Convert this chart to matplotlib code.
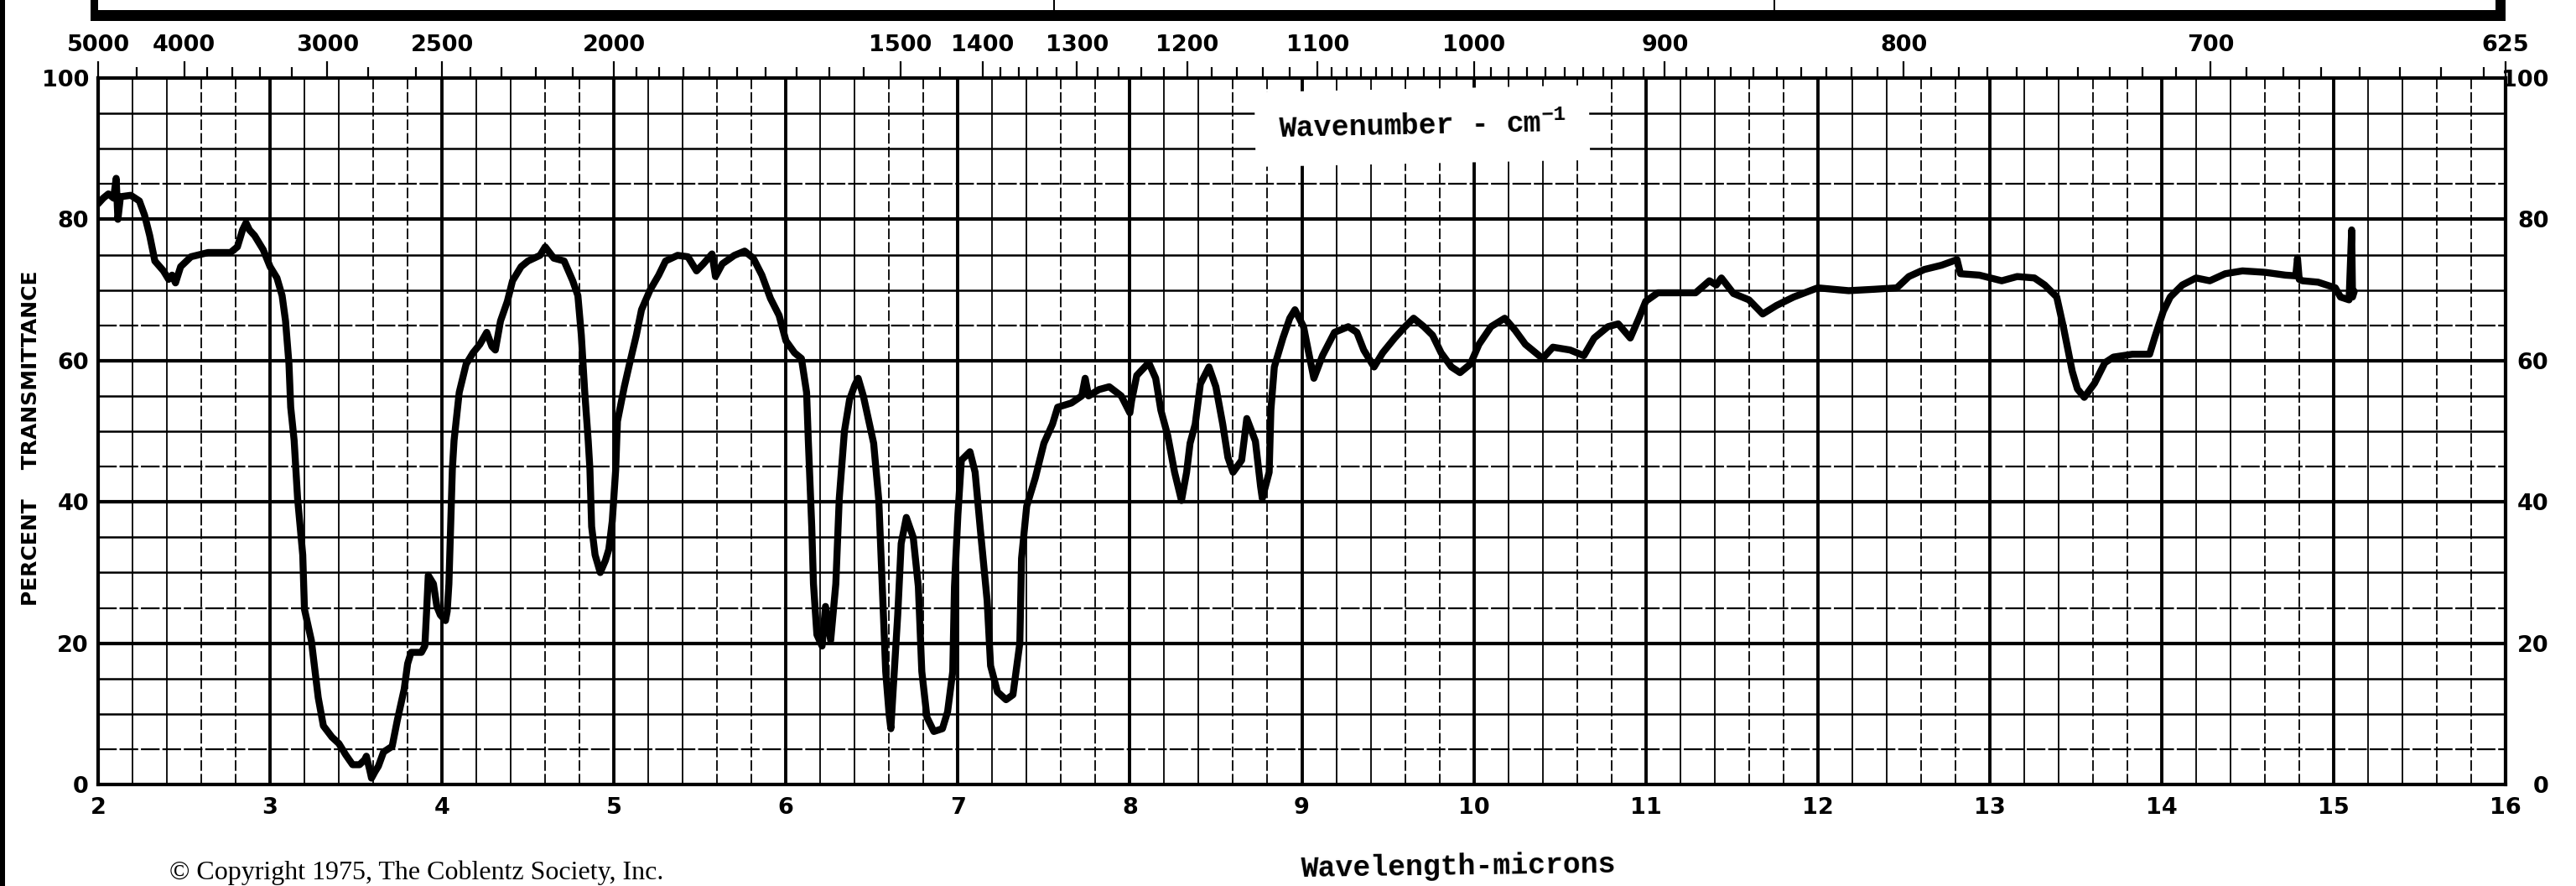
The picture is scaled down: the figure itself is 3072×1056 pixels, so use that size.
import numpy as np
import matplotlib
matplotlib.use("Agg")
import matplotlib.pyplot as plt
from matplotlib import font_manager
from matplotlib.patches import Rectangle

# spectrum: wavelength (microns) / percent transmittance
wavelength = [
    2.00, 2.03, 2.06, 2.09, 2.105, 2.115, 2.13, 2.19, 2.24, 2.27, 2.30, 2.33,
    2.38, 2.41, 2.43, 2.45, 2.48, 2.54, 2.64, 2.77, 2.81, 2.84, 2.86, 2.88,
    2.91, 2.96, 3.00, 3.04, 3.07, 3.09, 3.11, 3.12, 3.14, 3.16, 3.19, 3.20,
    3.24, 3.26, 3.28, 3.31, 3.36, 3.40, 3.44, 3.48, 3.52, 3.55, 3.56, 3.58,
    3.59, 3.61, 3.63, 3.66, 3.71, 3.74, 3.78, 3.80, 3.82, 3.88, 3.90, 3.91,
    3.92, 3.95, 3.97, 3.99, 4.02, 4.03, 4.04, 4.05, 4.06, 4.07, 4.10, 4.14,
    4.18, 4.22, 4.26, 4.29, 4.31, 4.34, 4.38, 4.41, 4.46, 4.50, 4.57, 4.60,
    4.65, 4.71, 4.76, 4.79, 4.81, 4.83, 4.85, 4.86, 4.87, 4.89, 4.92, 4.95,
    4.97, 4.99, 5.01, 5.02, 5.06, 5.09, 5.13, 5.16, 5.21, 5.26, 5.30, 5.37,
    5.43, 5.48, 5.52, 5.57, 5.59, 5.63, 5.70, 5.76, 5.81, 5.86, 5.91, 5.96,
    6.00, 6.05, 6.09, 6.12, 6.13, 6.15, 6.16, 6.18, 6.21, 6.23, 6.26, 6.29,
    6.31, 6.34, 6.37, 6.40, 6.42, 6.45, 6.51, 6.54, 6.56, 6.58, 6.60, 6.61,
    6.62, 6.65, 6.67, 6.70, 6.74, 6.77, 6.79, 6.82, 6.86, 6.91, 6.94, 6.97,
    6.98, 7.00, 7.02, 7.07, 7.10, 7.13, 7.17, 7.19, 7.23, 7.28, 7.32, 7.36,
    7.37, 7.40, 7.45, 7.50, 7.55, 7.58, 7.66, 7.72, 7.74, 7.76, 7.82, 7.88,
    7.95, 8.00, 8.01, 8.04, 8.11, 8.15, 8.18, 8.22, 8.26, 8.30, 8.33, 8.35,
    8.38, 8.41, 8.46, 8.50, 8.54, 8.57, 8.60, 8.65, 8.68, 8.73, 8.76, 8.77,
    8.81, 8.82, 8.84, 8.89, 8.93, 8.96, 9.01, 9.04, 9.07, 9.12, 9.19, 9.27,
    9.32, 9.36, 9.42, 9.47, 9.54, 9.60, 9.65, 9.71, 9.76, 9.81, 9.87, 9.92,
    9.98, 10.03, 10.10, 10.18, 10.24, 10.30, 10.40, 10.46, 10.56, 10.64, 10.70, 10.78,
    10.84, 10.91, 10.96, 11.00, 11.07, 11.19, 11.29, 11.37, 11.41, 11.44, 11.51, 11.60,
    11.68, 11.76, 11.86, 12.00, 12.18, 12.33, 12.46, 12.53, 12.62, 12.72, 12.81, 12.83,
    12.94, 13.07, 13.16, 13.26, 13.32, 13.39, 13.43, 13.48, 13.51, 13.55, 13.61, 13.67,
    13.72, 13.83, 13.93, 13.96, 14.01, 14.05, 14.12, 14.20, 14.28, 14.37, 14.47, 14.60,
    14.72, 14.78, 14.79, 14.80, 14.82, 14.91, 15.01, 15.04, 15.09, 15.105, 15.11, 15.12,
]
transmittance = [
    82.2, 83.0, 83.6, 83.0, 85.8, 80.0, 83.2, 83.4, 82.6, 80.6, 77.7, 74.1,
    72.7, 71.5, 72.1, 71.0, 73.3, 74.7, 75.3, 75.3, 76.1, 78.5, 79.5, 78.5,
    77.7, 75.7, 73.3, 71.7, 69.2, 65.6, 59.5, 53.4, 48.7, 40.5, 32.5, 24.8,
    20.4, 16.3, 12.3, 8.3, 6.7, 5.8, 4.2, 2.8, 2.8, 3.5, 4.0, 2.0,
    0.9, 1.8, 2.6, 4.6, 5.4, 9.1, 13.5, 17.1, 18.7, 18.7, 19.6, 24.4,
    29.6, 28.4, 25.2, 24.0, 23.2, 24.5, 28.4, 36.5, 44.6, 48.7, 55.5, 59.5,
    61.1, 62.3, 64.0, 62.0, 61.5, 65.6, 68.4, 71.3, 73.3, 74.1, 74.9, 76.1,
    74.5, 74.1, 71.3, 69.2, 63.6, 55.5, 48.7, 44.6, 36.5, 32.5, 30.0, 31.7,
    33.3, 37.3, 44.6, 51.4, 56.3, 59.5, 63.6, 67.2, 70.0, 72.1, 74.1, 74.9,
    74.7, 72.7, 73.7, 75.1, 71.9, 73.7, 74.9, 75.5, 74.5, 72.1, 68.8, 66.4,
    62.8, 61.1, 60.3, 55.5, 48.7, 36.5, 28.4, 21.2, 19.6, 25.2, 20.4, 28.4,
    40.5, 50.0, 54.5, 56.5, 57.5, 55.0, 48.3, 40.2, 28.0, 16.0, 9.9, 7.9,
    12.0, 24.0, 34.1, 37.8, 35.0, 28.0, 16.0, 9.5, 7.5, 7.9, 10.3, 16.0,
    28.0, 38.2, 45.9, 47.1, 44.2, 36.2, 26.0, 16.8, 13.1, 12.0, 12.7, 20.0,
    32.0, 39.4, 43.4, 48.3, 51.0, 53.4, 54.0, 55.0, 57.5, 55.0, 55.9, 56.3,
    55.0, 52.6, 54.3, 57.9, 59.7, 57.5, 53.0, 49.4, 44.2, 40.2, 44.2, 48.3,
    51.0, 56.7, 59.1, 56.3, 51.0, 46.3, 44.2, 45.9, 51.8, 48.6, 42.2, 40.5,
    44.2, 53.0, 59.1, 63.2, 66.0, 67.2, 64.8, 61.1, 57.5, 60.7, 64.0, 64.8,
    64.0, 61.5, 59.1, 61.1, 63.2, 64.8, 66.0, 64.8, 63.6, 61.1, 59.1, 58.3,
    59.5, 62.3, 64.8, 66.0, 64.3, 62.3, 60.3, 61.9, 61.5, 60.7, 63.2, 64.8,
    65.2, 63.2, 66.0, 68.4, 69.6, 69.6, 69.6, 71.3, 70.7, 71.7, 69.5, 68.6,
    66.6, 67.8, 69.0, 70.3, 69.9, 70.1, 70.3, 71.9, 72.9, 73.5, 74.3, 72.3,
    72.1, 71.3, 71.9, 71.7, 70.7, 69.0, 64.6, 58.5, 56.0, 54.8, 56.8, 59.7,
    60.5, 60.9, 60.9, 63.3, 67.0, 69.0, 70.7, 71.7, 71.3, 72.3, 72.7, 72.5,
    72.1, 72.0, 74.5, 71.5, 71.3, 71.1, 70.3, 69.0, 68.6, 78.5, 69.0, 69.8,
]

micron_ticks = list(range(2, 17))
percent_ticks = [0, 20, 40, 60, 80, 100]
wn_labels = [5000, 4000, 3000, 2500, 2000, 1500, 1400, 1300, 1200,
             1100, 1000, 900, 800, 700, 625]
wn_minor = ([4500, 3800, 3600, 3400, 3200, 2800, 2600, 2400, 2300, 2200, 2100]
            + [w for w in range(1950, 1400, -50) if w != 1500]
            + [w for w in range(1380, 1100, -20) if w not in wn_labels]
            + [w for w in range(1090, 625, -10) if w not in wn_labels])

W, H = 3072, 1056

# fonts: narrow bold for the numbers if there is one
names = {f.name for f in font_manager.fontManager.ttflist}
if "Liberation Sans Narrow" in names:
    num_font, num_size = "Liberation Sans Narrow", 23
else:
    num_font, num_size = "DejaVu Sans", 19.5

plt.rcParams["font.family"] = [num_font, "DejaVu Sans"]
plt.rcParams["font.weight"] = "bold"
plt.rcParams["mathtext.fontset"] = "custom"
plt.rcParams["mathtext.rm"] = "Liberation Mono:bold"
plt.rcParams["mathtext.bf"] = "Liberation Mono:bold"
plt.rcParams["mathtext.default"] = "rm"


def px_box(x0, y0, x1, y1):
    """rectangle in image pixels (y down) -> figure fraction"""
    return Rectangle((x0 / W, 1 - y1 / H), (x1 - x0) / W, (y1 - y0) / H,
                     transform=fig.transFigure, facecolor="black",
                     edgecolor="none")


def to_wn(x):
    x = np.asarray(x, dtype=float)
    with np.errstate(divide="ignore"):
        return 10000.0 / x


fig = plt.figure(figsize=(W / 100, H / 100), dpi=100)
ax = fig.add_axes([117 / W, (H - 935) / H, (2988 - 117) / W, (935 - 93) / H])
ax.set_xlim(2, 16)
ax.set_ylim(0, 100)

# chart paper grid
for t in range(5, 100, 5):
    if t % 20 == 0:
        ax.axhline(t, color="black", lw=3.0, zorder=1)
    elif t % 20 == 5:
        ax.axhline(t, color="black", lw=1.6, ls=(0, (10, 1.5)), zorder=1)
    else:
        ax.axhline(t, color="black", lw=1.8, zorder=1)
for m in np.arange(2.2, 16.0, 0.2):
    frac = round((m % 1) * 10)
    if frac in (0, 10):
        ax.axvline(m, color="black", lw=2.8, zorder=1)
    elif frac in (2, 4):
        ax.axvline(m, color="black", lw=1.3, zorder=1)
    else:
        ax.axvline(m, color="black", lw=1.3, ls=(0, (7, 2)), zorder=1)

ax.plot(wavelength, transmittance, color="black", lw=6.0,
        solid_joinstyle="round", solid_capstyle="round", zorder=5)

for s in ax.spines.values():
    s.set_linewidth(3.0)
ax.set_xticks(micron_ticks)
ax.set_yticks(percent_ticks)
ax.tick_params(axis="both", length=0, labelsize=num_size)
ax.tick_params(axis="x", pad=11)
ax.tick_params(axis="y", pad=8)

# right hand percent scale
secy = ax.secondary_yaxis("right")
secy.set_yticks(percent_ticks)
secy.tick_params(length=0, pad=37, labelsize=num_size)
secy.spines["right"].set_visible(False)
for lbl in secy.get_yticklabels():
    lbl.set_horizontalalignment("right")

# wavenumber scale on top
secx = ax.secondary_xaxis("top", functions=(to_wn, to_wn))
secx.set_xticks(wn_labels, labels=[str(w) for w in wn_labels])
secx.set_xticks(wn_minor, minor=True)
secx.tick_params(which="major", direction="out", length=14.5, width=1.6,
                 pad=4, labelsize=num_size)
secx.tick_params(which="minor", direction="out", length=9.5, width=1.6)
secx.spines["top"].set_visible(False)

ax.text(9.70, 93.2, "Wavenumber - cm$^{-1}$", family="Liberation Mono",
        weight="bold", fontsize=25, ha="center", va="center", rotation=1.2,
        bbox=dict(facecolor="white", edgecolor="none", pad=20), zorder=4)

fig.text(37 / W, 1 - 522 / H, "PERCENT    TRANSMITTANCE", family="DejaVu Sans",
         weight="bold", fontsize=18, rotation=90, ha="center", va="center")
fig.text(1739 / W, 1 - 1033 / H, "Wavelength-microns", family="Liberation Mono",
         weight="bold", fontsize=25, ha="center", va="center", rotation=0.8)
fig.text(202 / W, 1 - 1040 / H, "\u00a9 Copyright 1975, The Coblentz Society, Inc.",
         family="Liberation Serif", weight="normal", fontsize=23,
         ha="left", va="center")

# frame bits of the scanned sheet
fig.add_artist(px_box(0, 0, 6, H))
fig.add_artist(px_box(108, 12, 2988, 25))
fig.add_artist(px_box(108, 0, 117, 25))
fig.add_artist(px_box(2976, 0, 2988, 22))
fig.add_artist(px_box(1256, 0, 1258, 13))
fig.add_artist(px_box(2115, 0, 2117, 13))

fig.savefig("out.png", dpi=100, facecolor="white")
